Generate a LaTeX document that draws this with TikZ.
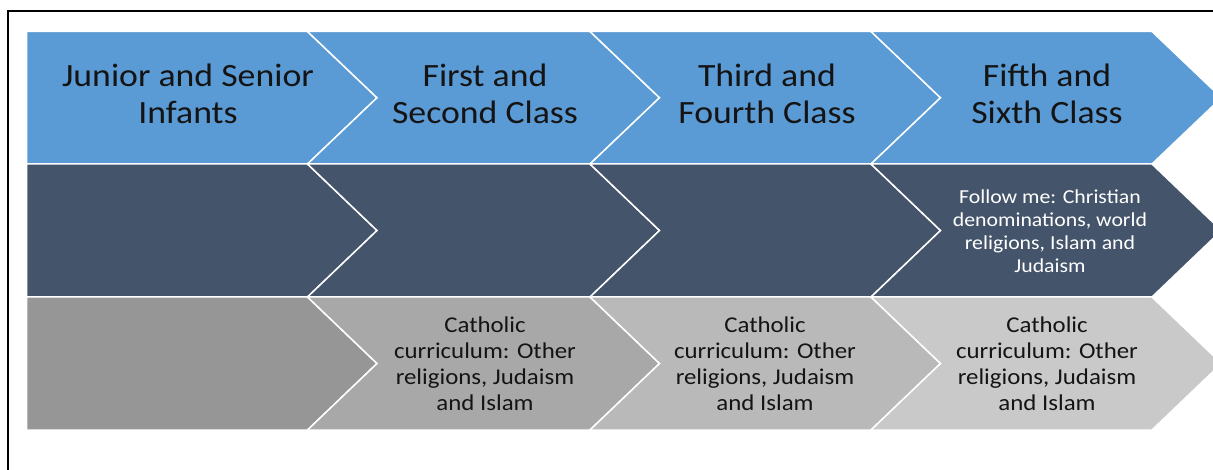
\documentclass[tikz,border=0pt]{standalone}
\usepackage{fontspec}
\setmainfont{Carlito}[FakeStretch=1.1]
\definecolor{topblue}{RGB}{91,155,213}
\definecolor{midslate}{RGB}{68,84,106}
\definecolor{grayA}{RGB}{150,150,150}
\definecolor{grayB}{RGB}{168,168,168}
\definecolor{grayC}{RGB}{185,185,185}
\definecolor{grayD}{RGB}{201,201,201}
\definecolor{txtdark}{RGB}{20,20,20}
\tikzset{
  chev/.style={draw=white, line width=1.5pt, line join=miter},
  toptext/.style={align=center, font=\fontsize{32.5}{37.3}\selectfont, text=txtdark, inner sep=0pt},
  lowtext/.style={align=center, font=\fontsize{22.6}{26}\selectfont, text=txtdark, inner sep=0pt},
  midtext/.style={align=center, font=\fontsize{19.8}{23}\selectfont, text=white, inner sep=0pt},
}
\begin{document}
\begin{tikzpicture}[x=1pt,y=-1pt]
\useasboundingbox (0,0) rectangle (1213,470);
\fill[white] (0,0) rectangle (1213,470);
% frame
\draw[line width=2pt] (7.5,475) -- (7.5,11.5) -- (1220,11.5);
% row 1
\path[chev, fill=topblue] (26.5,31.5) -- (307.5,31.5) -- (377,97.75) -- (307.5,164) -- (26.5,164) -- cycle;
\path[chev, fill=topblue] (307.5,31.5) -- (590,31.5) -- (659.5,97.75) -- (590,164) -- (307.5,164) -- (377,97.75) -- cycle;
\path[chev, fill=topblue] (590,31.5) -- (871,31.5) -- (940.5,97.75) -- (871,164) -- (590,164) -- (659.5,97.75) -- cycle;
\path[chev, fill=topblue] (871,31.5) -- (1152,31.5) -- (1221.5,97.75) -- (1152,164) -- (871,164) -- (940.5,97.75) -- cycle;
% row 2
\path[chev, fill=midslate] (26.5,164) -- (307.5,164) -- (377,230.5) -- (307.5,297) -- (26.5,297) -- cycle;
\path[chev, fill=midslate] (307.5,164) -- (590,164) -- (659.5,230.5) -- (590,297) -- (307.5,297) -- (377,230.5) -- cycle;
\path[chev, fill=midslate] (590,164) -- (871,164) -- (940.5,230.5) -- (871,297) -- (590,297) -- (659.5,230.5) -- cycle;
\path[chev, fill=midslate] (871,164) -- (1152,164) -- (1221.5,230.5) -- (1152,297) -- (871,297) -- (940.5,230.5) -- cycle;
% row 3
\path[chev, fill=grayA] (26.5,297) -- (307.5,297) -- (377,363.5) -- (307.5,430) -- (26.5,430) -- cycle;
\path[chev, fill=grayB] (307.5,297) -- (590,297) -- (659.5,363.5) -- (590,430) -- (307.5,430) -- (377,363.5) -- cycle;
\path[chev, fill=grayC] (590,297) -- (871,297) -- (940.5,363.5) -- (871,430) -- (590,430) -- (659.5,363.5) -- cycle;
\path[chev, fill=grayD] (871,297) -- (1152,297) -- (1221.5,363.5) -- (1152,430) -- (871,430) -- (940.5,363.5) -- cycle;
% texts
\node[toptext] (t1) at (188,94) {Junior and Senior\\Infants};
\node[toptext] (t2) at (485,94) {First and\\Second Class};
\node[toptext] (t3) at (767,94) {Third and\\Fourth Class};
\node[toptext] (t4) at (1047,94) {Fifth and\\Sixth Class};
\node[midtext] (m4) at (1050,231) {Follow me: Christian\\denominations, world\\religions, Islam and\\Judaism};
\node[lowtext] (b2) at (485,364) {Catholic\\curriculum: Other\\religions, Judaism\\and Islam};
\node[lowtext] (b3) at (765,364) {Catholic\\curriculum: Other\\religions, Judaism\\and Islam};
\node[lowtext] (b4) at (1047,364) {Catholic\\curriculum: Other\\religions, Judaism\\and Islam};
\end{tikzpicture}
\end{document}
